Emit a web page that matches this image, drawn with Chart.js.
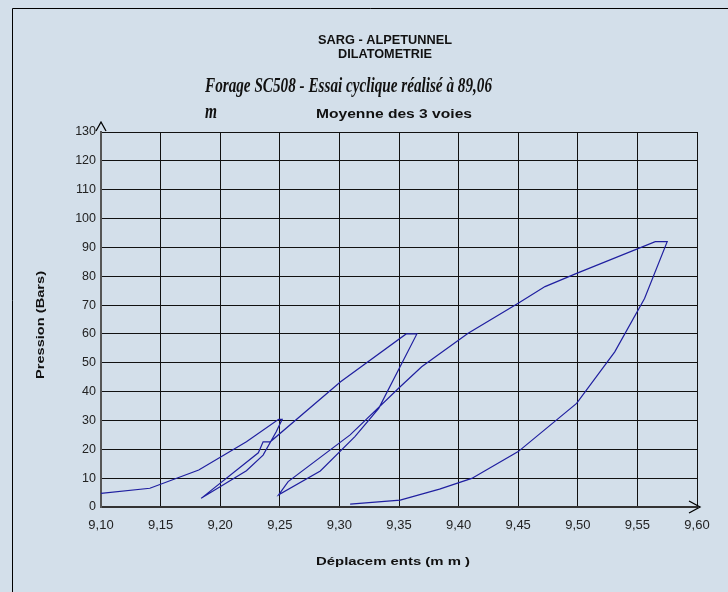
<!DOCTYPE html>
<html>
<head>
<meta charset="utf-8">
<script src="https://cdn.jsdelivr.net/npm/chart.js@4.4.0/dist/chart.umd.min.js"></script>
<style>
  html, body { margin: 0; padding: 0; background: #d3dfea; }
  #wrap { width: 728px; height: 592px; }
</style>
</head>
<body>
<div id="wrap"><canvas id="canvas" width="728" height="592"></canvas></div>
<script>
// Déplacements (mm) / Pression (Bars) in drawing order
const displacement = [
    9.100, 9.141, 9.182, 9.222, 9.249, 9.252,
    9.247, 9.236, 9.222, 9.184,
    9.232, 9.236, 9.242, 9.301, 9.356, 9.365,
    9.333, 9.313, 9.284, 9.249,
    9.257, 9.309, 9.351, 9.369, 9.408, 9.450, 9.4725, 9.499, 9.565, 9.575,
    9.556, 9.531, 9.499, 9.450, 9.411, 9.384, 9.351, 9.309
];
const pressure = [
    4.7, 6.5, 12.8, 22.6, 30.4, 30.4,
    26.1, 18.0, 12.6, 3.0,
    18.8, 22.6, 22.6, 43.4, 60.0, 60.0,
    34.2, 24.4, 12.5, 4.2,
    8.8, 25.0, 41.7, 48.6, 60.2, 70.6, 76.4, 81.0, 92.0, 92.0,
    72.3, 53.8, 35.9, 19.2, 9.9, 6.2, 2.4, 1.0
];
const xTickLabels = ['9,10', '9,15', '9,20', '9,25', '9,30', '9,35', '9,40', '9,45', '9,50', '9,55', '9,60'];
const yTickLabels = ['0', '10', '20', '30', '40', '50', '60', '70', '80', '90', '100', '110', '120', '130'];

const points = displacement.map((x, i) => ({ x: x, y: pressure[i] }));

// draw a text squeezed/stretched to a given width (the original fonts are narrow)
const fitText = (ctx, text, x, y, font, width, align) => {
    ctx.save();
    ctx.font = font;
    const w = ctx.measureText(text).width;
    const k = width / w;
    ctx.translate(x, y);
    ctx.scale(k, 1);
    ctx.textAlign = align || 'center';
    ctx.textBaseline = 'middle';
    ctx.fillText(text, 0, 0);
    ctx.restore();
};

const decor = {
    id: 'decor',
    beforeDraw(chart) {
        const ctx = chart.ctx;
        ctx.save();
        ctx.fillStyle = '#d3dfea';
        ctx.fillRect(0, 0, chart.width, chart.height);
        // outer frame (left and top edges visible)
        ctx.strokeStyle = '#000';
        ctx.lineWidth = 1;
        ctx.beginPath();
        ctx.moveTo(12.5, chart.height);
        ctx.lineTo(12.5, 8.5);
        ctx.lineTo(chart.width, 8.5);
        ctx.stroke();
        ctx.restore();
    },
    afterDraw(chart) {
        const ctx = chart.ctx;
        const a = chart.chartArea;
        ctx.save();
        ctx.fillStyle = '#111';
        fitText(ctx, 'SARG - ALPETUNNEL', 385, 40, 'bold 13px "Liberation Sans", Arial', 134);
        fitText(ctx, 'DILATOMETRIE', 385, 54, 'bold 13px "Liberation Sans", Arial', 94);
        fitText(ctx, 'Forage SC508 - Essai cyclique réalisé à 89,06', 205, 87,
            'italic bold 20px "Liberation Serif", "Times New Roman"', 287, 'left');
        fitText(ctx, 'm', 205, 113, 'italic bold 20px "Liberation Serif", "Times New Roman"', 12, 'left');
        fitText(ctx, 'Moyenne des 3 voies', 394, 115, 'bold 12px "Liberation Sans", Arial', 156);
        fitText(ctx, 'Déplacem ents (m m )', 393, 562, 'bold 11px "Liberation Sans", Arial', 154);
        ctx.save();
        ctx.translate(41, 325);
        ctx.rotate(-Math.PI / 2);
        fitText(ctx, 'Pression (Bars)', 0, 0, 'bold 11px "Liberation Sans", Arial', 108);
        ctx.restore();

        // axis arrow heads
        ctx.strokeStyle = '#000';
        ctx.lineWidth = 1.3;
        ctx.beginPath();
        ctx.moveTo(a.left - 5, a.top - 1);
        ctx.lineTo(a.left, a.top - 10);
        ctx.lineTo(a.left + 5, a.top - 1);
        ctx.moveTo(a.right - 8, a.bottom - 6);
        ctx.lineTo(a.right + 3, a.bottom);
        ctx.lineTo(a.right - 8, a.bottom + 6);
        ctx.stroke();
        ctx.restore();
    }
};

const ctx = document.getElementById('canvas').getContext('2d');
window.myChart = new Chart(ctx, {
    type: 'scatter',
    data: {
        datasets: [{
            label: 'Moyenne des 3 voies',
            data: points,
            showLine: true,
            borderColor: '#1f1fa0',
            borderWidth: 1.2,
            pointRadius: 0,
            tension: 0,
            clip: false
        }]
    },
    options: {
        responsive: false,
        animation: false,
        layout: { padding: { left: 56, top: 132, right: 31, bottom: 55 } },
        plugins: {
            legend: { display: false },
            title: { display: false },
            tooltip: { enabled: false }
        },
        scales: {
            x: {
                type: 'linear',
                min: 9.10,
                max: 9.60,
                afterFit: (scale) => { scale.height = 30; },
                afterBuildTicks: (scale) => {
                    scale.ticks = xTickLabels.map((t, i) => ({ value: 9.10 + i * 0.05 }));
                },
                ticks: {
                    padding: 11,
                    color: '#222',
                    font: { family: '"Liberation Sans", Arial', size: 13 },
                    callback: (v, i) => xTickLabels[i]
                },
                grid: { color: '#111', lineWidth: 1, drawTicks: false },
                border: { color: '#333', width: 2 }
            },
            y: {
                min: 0,
                max: 130,
                afterFit: (scale) => { scale.width = 45; },
                afterBuildTicks: (scale) => {
                    scale.ticks = yTickLabels.map((t) => ({ value: Number(t) }));
                },
                ticks: {
                    padding: 5,
                    color: '#222',
                    font: { family: '"Liberation Sans", Arial', size: 12.5 },
                    callback: (v, i) => yTickLabels[i]
                },
                grid: { color: '#111', lineWidth: 1, drawTicks: false },
                border: { color: '#555', width: 2 }
            }
        }
    },
    plugins: [decor]
});
</script>
</body>
</html>
